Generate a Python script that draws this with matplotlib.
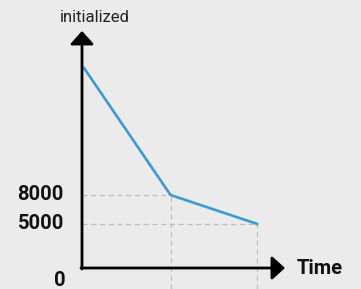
import matplotlib
matplotlib.use('Agg')
import matplotlib.pyplot as plt
from matplotlib.transforms import offset_copy

# data
times = [0, 1, 2]
values = [21200, 8000, 5000]
ytick_vals = [8000, 5000]
ytick_labels = ['8000', '5000']
zero_label = '0'
ylabel = 'initialized'
xlabel = 'Time'

bg = '#ebebeb'
blue = '#3b9ad6'
grid = '#bdbdbd'

plt.rcParams['font.family'] = ['Roboto', 'DejaVu Sans']

W, H, dpi = 361, 289, 100
fig = plt.figure(figsize=(W / dpi, H / dpi), dpi=dpi, facecolor=bg)
ax = fig.add_axes([0, 0, 1, 1])
ax.set_facecolor(bg)
ax.axis('off')

# pixel mapping: x=0 -> 84px, 86.5px per step; y=0 -> 17px from bottom, 9.625px per 1000
ax.set_xlim(-84 / 86.5, (W - 84) / 86.5)
ax.set_ylim(-17 / 9.625 * 1000, (H - 17) / 9.625 * 1000)

x_axis = -2 / 86.5  # axis line position (data)

# dashed guides
for t, v in zip(times[1:], values[1:]):
    ax.hlines(v, x_axis, t, colors=grid, linestyles=(0, (4, 3)), lw=0.9, zorder=1)
    ax.vlines(t, ax.get_ylim()[0], v, colors=grid, linestyles=(0, (4, 3)), lw=0.9, zorder=1)

ax.plot(times, values, color=blue, lw=1.9, zorder=3, solid_joinstyle='miter')

# axes with arrows (figure pixels)
arrow = dict(arrowstyle='-|>,head_width=0.5,head_length=0.55', lw=2.0, color='black',
             shrinkA=0, shrinkB=0, mutation_scale=14.4)
ax.annotate('', xy=(82, H - 31), xytext=(82, H - 269), xycoords='figure pixels',
            textcoords='figure pixels', arrowprops=arrow, zorder=4)
ax.annotate('', xy=(285, H - 268), xytext=(81, H - 268), xycoords='figure pixels',
            textcoords='figure pixels', arrowprops=arrow, zorder=4)

# labels
ytr = ax.get_yaxis_transform()
for v, lab in zip(ytick_vals, ytick_labels):
    ax.text(64 / W, v, lab, transform=ytr, ha='right', va='center',
            fontsize=14.5, fontweight='bold', color='#111111')
ax.text(66 / W, 0, zero_label, transform=offset_copy(ytr, fig=fig, y=-8, units='dots'),
        ha='right', va='center', fontsize=14.5, fontweight='bold', color='#111111')
fig.text(297 / W, 1 - 268 / H, xlabel, ha='left', va='center',
         fontsize=14.5, fontweight='bold', color='#111111')
fig.text(95 / W, 1 - 17 / H, ylabel, ha='center', va='center',
         fontsize=12, color='#222222')

plt.savefig('out.png', dpi=dpi, facecolor=bg)
